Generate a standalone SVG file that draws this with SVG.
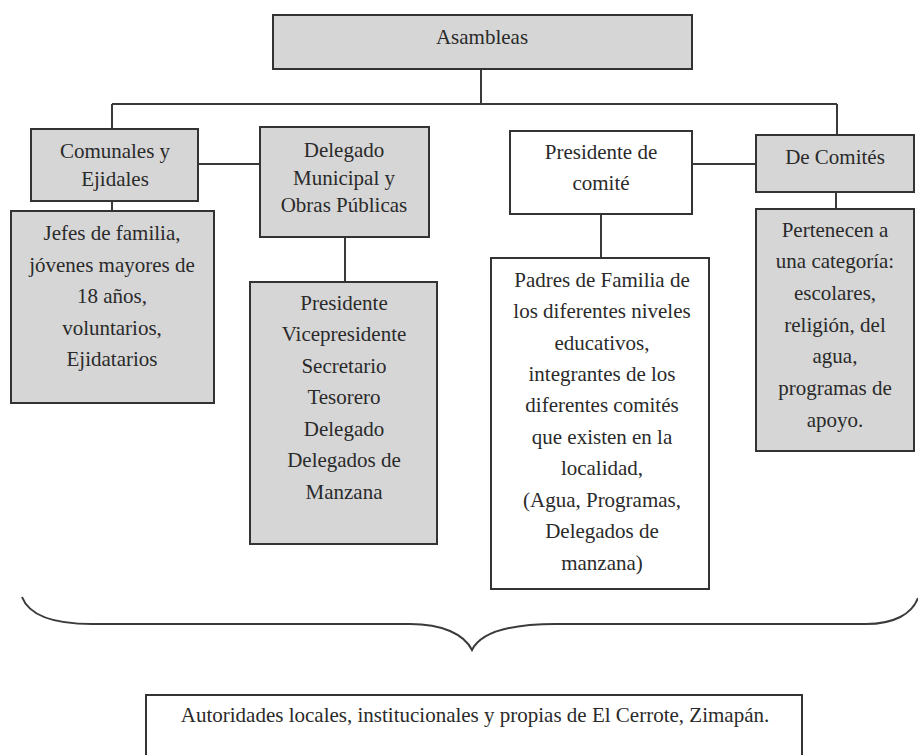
<svg xmlns="http://www.w3.org/2000/svg" width="918" height="755" viewBox="0 0 918 755">
<style>
  .box { stroke: #333; stroke-width: 2; }
  .gray { fill: #d6d6d6; }
  .white { fill: #ffffff; }
  .conn { stroke: #3a3a3a; stroke-width: 2; fill: none; }
  text { font-family: "Liberation Serif", "Times New Roman", serif; font-size: 21px; fill: #2a2a2a; text-anchor: middle; }
</style>
<rect x="0" y="0" width="918" height="755" fill="#ffffff"/>
<g id="connectors">
  <path class="conn" d="M481,69 V104 M112,104 H837 M112,104 V129 M837,104 V135"/>
  <path class="conn" d="M198,164 H260 M345,237 V282 M112,201 V211"/>
  <path class="conn" d="M692,164 H756 M601,214 V258 M836,192 V209"/>
  <path class="conn" d="M22,597 C30,618 58,624 92,624 L410,624 C442,624 464,634 472,650 C480,634 504,624 556,624 L866,624 C894,624 912,614 918,598"/>
</g>
<g id="asambleas">
  <rect class="box gray" x="273" y="15" width="419" height="54"/>
  <text x="482" y="44">Asambleas</text>
</g>
<g id="comunales">
  <rect class="box gray" x="31" y="129" width="167" height="72"/>
  <text x="115" y="158">Comunales y</text>
  <text x="115" y="186">Ejidales</text>
</g>
<g id="jefes">
  <rect class="box gray" x="11" y="211" width="203" height="192"/>
  <text x="112" y="240">Jefes de familia,</text>
  <text x="112" y="271.5">jóvenes mayores de</text>
  <text x="112" y="303">18 años,</text>
  <text x="112" y="334.5">voluntarios,</text>
  <text x="112" y="366">Ejidatarios</text>
</g>
<g id="delegado">
  <rect class="box gray" x="260" y="127" width="169" height="110"/>
  <text x="344" y="157">Delegado</text>
  <text x="344" y="184.5">Municipal y</text>
  <text x="344" y="212">Obras Públicas</text>
</g>
<g id="cargos">
  <rect class="box gray" x="250" y="282" width="187" height="262"/>
  <text x="344" y="309.5">Presidente</text>
  <text x="344" y="341">Vicepresidente</text>
  <text x="344" y="372.5">Secretario</text>
  <text x="344" y="404">Tesorero</text>
  <text x="344" y="435.5">Delegado</text>
  <text x="344" y="467">Delegados de</text>
  <text x="344" y="498.5">Manzana</text>
</g>
<g id="presidente-comite">
  <rect class="box white" x="510" y="131" width="182" height="83"/>
  <text x="601" y="158.5">Presidente de</text>
  <text x="601" y="189.5">comité</text>
</g>
<g id="padres">
  <rect class="box white" x="491" y="258" width="218" height="331"/>
  <text x="602" y="286.5">Padres de Familia de</text>
  <text x="602" y="318">los diferentes niveles</text>
  <text x="602" y="349.5">educativos,</text>
  <text x="602" y="381">integrantes de los</text>
  <text x="602" y="412">diferentes comités</text>
  <text x="602" y="443.5">que existen en la</text>
  <text x="602" y="475">localidad,</text>
  <text x="602" y="506.5">(Agua, Programas,</text>
  <text x="602" y="538">Delegados de</text>
  <text x="602" y="569.5">manzana)</text>
</g>
<g id="de-comites">
  <rect class="box gray" x="756" y="135" width="158" height="57"/>
  <text x="835" y="163.5">De Comités</text>
</g>
<g id="pertenecen">
  <rect class="box gray" x="756" y="209" width="158" height="242"/>
  <text x="835" y="236.5">Pertenecen a</text>
  <text x="835" y="268">una categoría:</text>
  <text x="835" y="300">escolares,</text>
  <text x="835" y="331.5">religión, del</text>
  <text x="835" y="363">agua,</text>
  <text x="835" y="395">programas de</text>
  <text x="835" y="426.5">apoyo.</text>
</g>
<g id="autoridades">
  <rect class="box white" x="146" y="695" width="656" height="70"/>
  <text x="475" y="722">Autoridades locales, institucionales y propias de El Cerrote, Zimapán.</text>
</g>
</svg>
